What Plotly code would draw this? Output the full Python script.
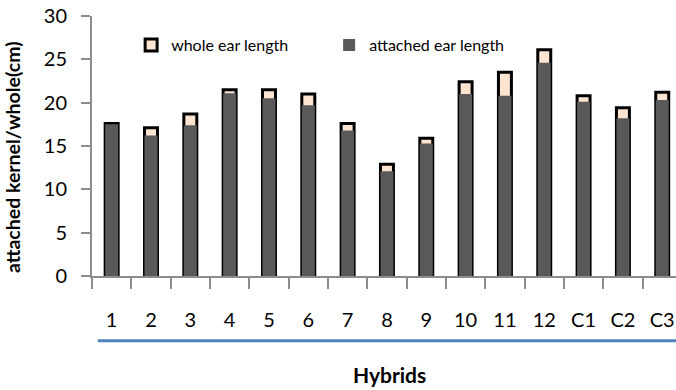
import plotly.graph_objects as go

categories = ["1", "2", "3", "4", "5", "6", "7", "8", "9", "10", "11", "12", "C1", "C2", "C3"]
whole_ear = [17.6, 17.1, 18.7, 21.5, 21.5, 21.0, 17.6, 12.9, 15.9, 22.4, 23.5, 26.1, 20.8, 19.4, 21.2]
attached_ear = [17.5, 16.2, 17.4, 21.1, 20.5, 19.7, 16.8, 12.1, 15.3, 21.0, 20.8, 24.6, 20.1, 18.2, 20.3]

FONT = "Lato"
AX = "#8c8c8c"

fig = go.Figure()
fig.add_trace(go.Bar(
    x=categories, y=whole_ear, name="whole ear length",
    width=0.33, marker=dict(color="#fde4d0", line=dict(color="black", width=3)),
))
fig.add_trace(go.Bar(
    x=categories, y=attached_ear, name="attached ear length",
    width=0.33, marker=dict(color="#595959", line=dict(color="#595959", width=0)),
))

fig.update_layout(
    width=676, height=390,
    margin=dict(l=92, r=0, t=16, b=114),
    barmode="overlay",
    plot_bgcolor="white", paper_bgcolor="white",
    font=dict(family=FONT, color="black"),
    showlegend=True,
    legend=dict(orientation="h", x=0.067, y=0.888, xanchor="left", yanchor="middle",
                font=dict(size=16, family=FONT), entrywidth=153, bgcolor="rgba(0,0,0,0)",
                itemwidth=30),
)
fig.update_xaxes(
    type="category", range=[-0.5, 14.35], showgrid=False,
    showline=True, linecolor=AX, linewidth=2,
    ticks="outside", tickson="boundaries", ticklen=11, tickcolor=AX, tickwidth=2,
    tickfont=dict(size=20, family=FONT), ticklabelstandoff=25,
)
fig.update_yaxes(
    range=[0, 30], dtick=5, showgrid=False, zeroline=False,
    showline=True, linecolor=AX, linewidth=2,
    ticks="outside", ticklen=9, tickcolor=AX, tickwidth=2,
    tickfont=dict(size=20, family=FONT), ticklabelstandoff=10,
)
fig.add_shape(type="line", xref="paper", yref="paper",
              x0=0.010, x1=1.0, y0=-0.249, y1=-0.249,
              line=dict(color="#4f81bd", width=3))
fig.add_annotation(text="<b>Hybrids</b>", xref="paper", yref="paper",
                   x=(389 - 92) / 584, y=(276 - 374) / 260, showarrow=False,
                   xanchor="center", yanchor="middle", font=dict(size=21, family=FONT))
fig.add_annotation(text="<b>attached kernel/whole(cm)</b>", xref="paper", yref="paper",
                   x=(12 - 92) / 584, y=(276 - 157) / 260, showarrow=False, textangle=-90,
                   xanchor="center", yanchor="middle", font=dict(size=19.5, family=FONT))

fig.write_html("out.html")
